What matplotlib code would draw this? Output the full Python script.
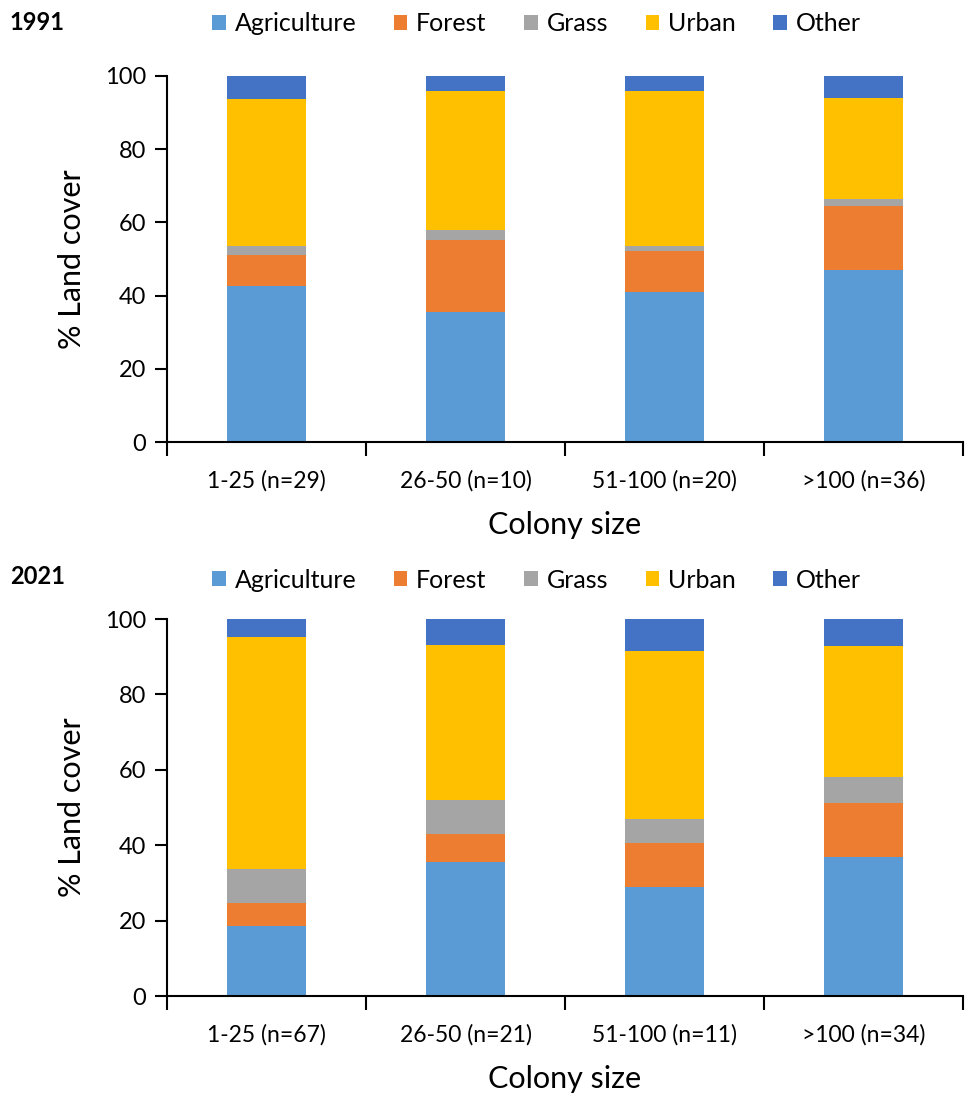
import matplotlib

matplotlib.use("Agg")
import matplotlib.pyplot as plt
import numpy as np
from matplotlib.patches import Patch

plt.rcParams["font.family"] = ["Lato", "DejaVu Sans"]

COVER_TYPES = ["Agriculture", "Forest", "Grass", "Urban", "Other"]
COVER_COLORS = ["#5B9BD5", "#ED7D31", "#A5A5A5", "#FFC000", "#4472C4"]

# 1991 survey: % land cover per colony-size class
LABELS_1991 = ["1-25 (n=29)", "26-50 (n=10)", "51-100 (n=20)", ">100 (n=36)"]
AGRI_1991 = [42.6, 35.6, 40.9, 47.0]
FOREST_1991 = [8.6, 19.6, 11.2, 17.5]
GRASS_1991 = [2.3, 2.7, 1.4, 1.8]
URBAN_1991 = [40.2, 38.0, 42.4, 27.7]
OTHER_1991 = [6.3, 4.1, 4.1, 6.0]

# 2021 survey
LABELS_2021 = ["1-25 (n=67)", "26-50 (n=21)", "51-100 (n=11)", ">100 (n=34)"]
AGRI_2021 = [18.6, 35.5, 28.8, 36.9]
FOREST_2021 = [6.2, 7.4, 11.7, 14.4]
GRASS_2021 = [9.0, 9.0, 6.4, 6.9]
URBAN_2021 = [61.4, 41.3, 44.5, 34.7]
OTHER_2021 = [4.8, 6.8, 8.6, 7.1]


def draw_panel(ax, labels, series, legend_y):
    x = np.arange(len(labels))
    bottom = np.zeros(len(labels))
    for values, color in zip(series, COVER_COLORS):
        ax.bar(x, values, width=0.4, bottom=bottom, color=color, linewidth=0)
        bottom += np.asarray(values)

    ax.set_xlim(-0.5, len(labels) - 0.5)
    ax.set_ylim(0, 100)
    ax.set_yticks(np.arange(0, 101, 20))
    ax.set_xticks(x)
    ax.set_xticklabels(labels, fontsize=16.5)
    ax.set_xticks(np.arange(-0.5, len(labels)), minor=True)
    ax.tick_params(axis="x", which="major", length=0, pad=20)
    ax.tick_params(axis="x", which="minor", length=10, width=1.5, direction="out")
    ax.tick_params(axis="y", labelsize=17, length=9, width=1.5, pad=6)

    ax.spines["top"].set_visible(False)
    ax.spines["right"].set_visible(False)
    ax.spines["left"].set_linewidth(1.5)
    ax.spines["bottom"].set_linewidth(1.5)

    ax.set_xlabel("Colony size", fontsize=22, labelpad=14)
    ax.set_ylabel("% Land cover", fontsize=22, labelpad=14)

    handles = [Patch(facecolor=c, label=n) for n, c in zip(COVER_TYPES, COVER_COLORS)]
    ax.legend(
        handles=handles,
        loc="center",
        bbox_to_anchor=(0.464, legend_y),
        ncol=5,
        frameon=False,
        fontsize=18,
        handlelength=0.55,
        handleheight=0.55,
        handletextpad=0.35,
        columnspacing=1.5,
        borderaxespad=0,
    )


fig = plt.figure(figsize=(9.7, 10.96), dpi=100)
ax_top = fig.add_axes([0.1722, 0.5967, 0.8206, 0.334])
ax_bot = fig.add_axes([0.1722, 0.0912, 0.8206, 0.344])

draw_panel(ax_top, LABELS_1991, [AGRI_1991, FOREST_1991, GRASS_1991, URBAN_1991, OTHER_1991], 1.142)
draw_panel(ax_bot, LABELS_2021, [AGRI_2021, FOREST_2021, GRASS_2021, URBAN_2021, OTHER_2021], 1.103)

fig.text(0.010, 1 - 22 / 1096, "1991", fontsize=17, fontweight="bold", va="center")
fig.text(0.010, 1 - 577 / 1096, "2021", fontsize=17, fontweight="bold", va="center")

fig.savefig("out.png", dpi=100)
